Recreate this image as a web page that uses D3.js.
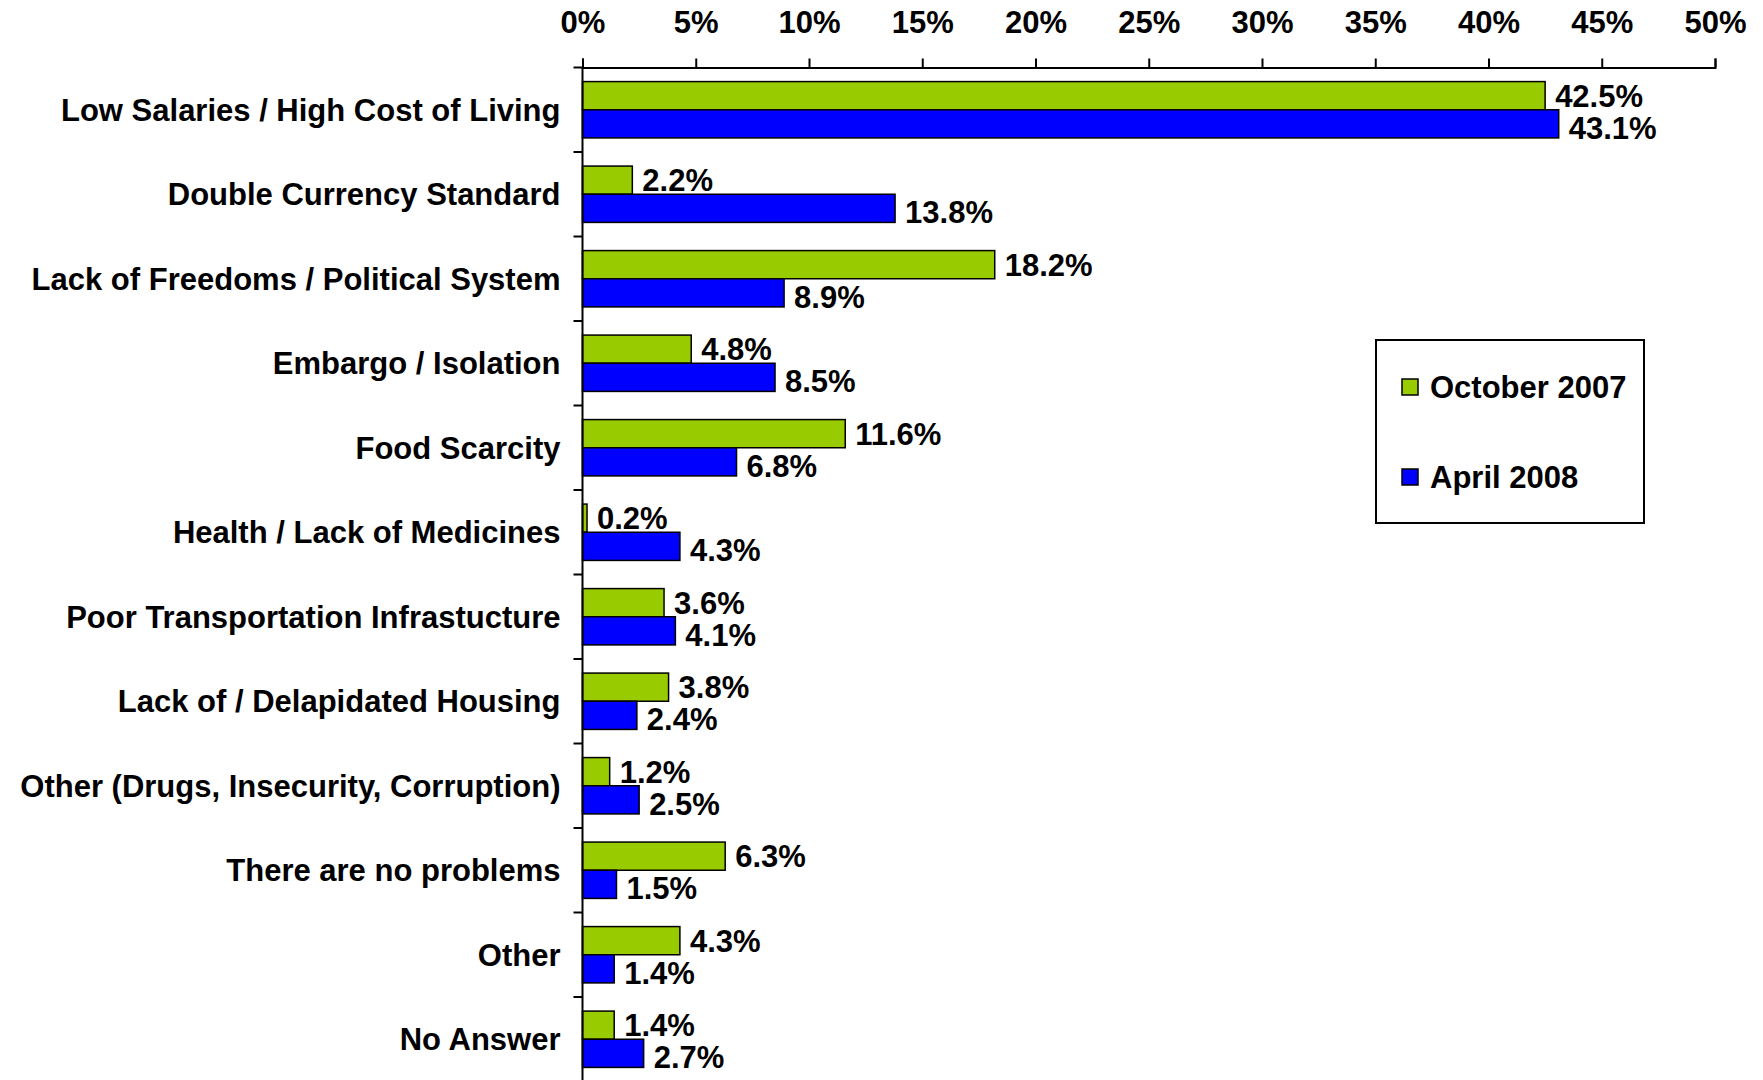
<!DOCTYPE html>
<html>
<head>
<meta charset="utf-8">
<script src="https://cdn.jsdelivr.net/npm/d3@7"></script>
<style>
  body { margin: 0; background: #fff; }
  text { font-family: "Liberation Sans", Arial, Helvetica, sans-serif; font-weight: bold; fill: #000; }
</style>
</head>
<body>
<div id="chart"></div>
<script>
// Data
var categories = [
  "Low Salaries / High Cost of Living",
  "Double Currency Standard",
  "Lack of Freedoms / Political System",
  "Embargo / Isolation",
  "Food Scarcity",
  "Health / Lack of Medicines",
  "Poor Transportation Infrastucture",
  "Lack of / Delapidated Housing",
  "Other (Drugs, Insecurity, Corruption)",
  "There are no problems",
  "Other",
  "No Answer"
];
var seriesNames = ["October 2007", "April 2008"];
var oct2007 = [42.5, 2.2, 18.2, 4.8, 11.6, 0.2, 3.6, 3.8, 1.2, 6.3, 4.3, 1.4];
var apr2008 = [43.1, 13.8, 8.9, 8.5, 6.8, 4.3, 4.1, 2.4, 2.5, 1.5, 1.4, 2.7];
var xTicks = [0, 5, 10, 15, 20, 25, 30, 35, 40, 45, 50];

var colors = {"October 2007": "#99CC00", "April 2008": "#0000FF"};

// Layout
var W = 1763, H = 1080;
var CHART = {left: 582.5, right: 1715, top: 67.5, rowH: 84.5};

var svg = d3.select("#chart").append("svg")
    .attr("width", W)
    .attr("height", H);

svg.append("rect").attr("width", W).attr("height", H).attr("fill", "#fff");

var x = d3.scaleLinear()
    .domain([0, 50])
    .range([CHART.left, CHART.right]);

var y = d3.scaleBand()
    .domain(categories)
    .range([CHART.top, CHART.top + categories.length * CHART.rowH]);

var ySub = d3.scaleBand()
    .domain(seriesNames)
    .range([0, y.bandwidth()])
    .paddingOuter(0.5);

// build rows
var rows = categories.map(function(c, i) {
  return {cat: c, vals: [
    {s: seriesNames[0], v: oct2007[i]},
    {s: seriesNames[1], v: apr2008[i]}
  ]};
});

// Bars
var g = svg.selectAll(".row")
  .data(rows)
  .enter()
  .append("g")
    .attr("class", "row")
    .attr("transform", function(d) { return "translate(0," + y(d.cat) + ")"; });

g.selectAll("rect")
  .data(function(d) { return d.vals; })
  .enter()
  .append("rect")
    .attr("x", x(0))
    .attr("y", function(d) { return ySub(d.s); })
    .attr("width", function(d) { return x(d.v) - x(0); })
    .attr("height", ySub.bandwidth())
    .attr("fill", function(d) { return colors[d.s]; })
    .attr("stroke", "#000")
    .attr("stroke-width", 1.5);

// value labels (blue ones sit a touch lower, like excel does it)
g.selectAll(".val")
  .data(function(d) { return d.vals; })
  .enter()
  .append("text")
    .attr("class", "val")
    .attr("x", function(d) { return x(d.v) + 10; })
    .attr("y", function(d, i) { return ySub(d.s) + ySub.bandwidth() / 2 + (i == 1 ? 4 : 0); })
    .attr("dy", "0.36em")
    .style("font-size", "31px")
    .text(function(d) { return d.v.toFixed(1) + "%"; });

// Category labels
svg.selectAll(".catLabel")
  .data(categories)
  .enter()
  .append("text")
    .attr("class", "catLabel")
    .attr("x", CHART.left - 22)
    .attr("y", function(d) { return y(d) + y.bandwidth() / 2; })
    .attr("dy", "0.36em")
    .attr("text-anchor", "end")
    .style("font-size", "31px")
    .text(function(d) { return d; });

// Top axis
var xAxis = d3.axisTop(x)
    .tickValues(xTicks)
    .tickSize(9)
    .tickPadding(26)
    .tickFormat(function(d) { return d + "%"; });

var axG = svg.append("g")
    .attr("transform", "translate(0," + CHART.top + ")")
    .call(xAxis);
axG.select(".domain").attr("stroke", "#000").attr("stroke-width", 2);
axG.selectAll(".tick line").attr("stroke", "#000").attr("stroke-width", 2);
axG.selectAll(".tick text")
    .style("font-size", "31px")
    .style("font-family", null)
    .attr("fill", "#000");

// Left category axis - ticks at band edges
var edges = categories.map(function(c) { return y(c); }).concat([y.range()[1]]);
svg.append("line")
    .attr("x1", CHART.left).attr("x2", CHART.left)
    .attr("y1", CHART.top).attr("y2", y.range()[1])
    .attr("stroke", "#000")
    .attr("stroke-width", 2);
svg.selectAll(".catTick")
  .data(edges)
  .enter()
  .append("line")
    .attr("class", "catTick")
    .attr("x1", CHART.left - 9).attr("x2", CHART.left)
    .attr("y1", function(d) { return d; })
    .attr("y2", function(d) { return d; })
    .attr("stroke", "#000")
    .attr("stroke-width", 2);

// Legend
var legend = svg.append("g").attr("transform", "translate(1376,340)");
legend.append("rect")
    .attr("width", 268)
    .attr("height", 183)
    .attr("fill", "#fff")
    .attr("stroke", "#000")
    .attr("stroke-width", 2);
var li = legend.selectAll(".lg")
  .data(seriesNames)
  .enter()
  .append("g")
    .attr("class", "lg")
    .attr("transform", function(d, i) { return "translate(26," + (47 + i * 90) + ")"; });
li.append("rect")
    .attr("y", -8)
    .attr("width", 16)
    .attr("height", 16)
    .attr("fill", function(d) { return colors[d]; })
    .attr("stroke", "#000")
    .attr("stroke-width", 1.5);
li.append("text")
    .attr("x", 28)
    .attr("dy", "0.36em")
    .style("font-size", "31px")
    .text(function(d) { return d; });
</script>
</body>
</html>
